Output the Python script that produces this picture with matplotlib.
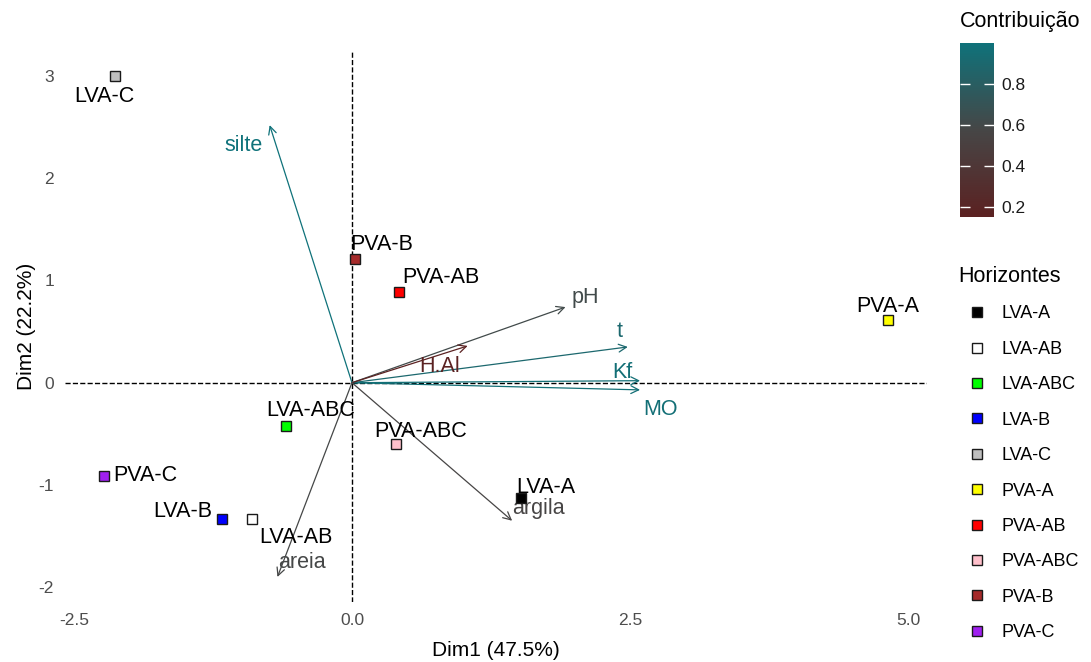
import numpy as np
import matplotlib.pyplot as plt
from matplotlib.colors import LinearSegmentedColormap, Normalize
from matplotlib.cm import ScalarMappable
from matplotlib.lines import Line2D

plt.rcParams['font.family'] = ['Liberation Sans', 'DejaVu Sans']
plt.rcParams['axes.unicode_minus'] = False

# individuos (horizontes) ---------------------------------
horizontes = ['LVA-A', 'LVA-AB', 'LVA-ABC', 'LVA-B', 'LVA-C',
              'PVA-A', 'PVA-AB', 'PVA-ABC', 'PVA-B', 'PVA-C']
dim1_ind = [1.52, -0.90, -0.59, -1.17, -2.13, 4.82, 0.42, 0.40, 0.03, -2.23]
dim2_ind = [-1.13, -1.33, -0.42, -1.33, 3.00, 0.61, 0.89, -0.60, 1.21, -0.91]
cores_hor = ['#000000', '#FFFFFF', '#00FF00', '#0000FF', '#BEBEBE',
             '#FFFF00', '#FF0000', '#FFC0CB', '#A52A2A', '#A020F0']

# variaveis ------------------------------------------------
variaveis = ['silte', 'pH', 't', 'Kf', 'MO', 'H.Al', 'argila', 'areia']
dim1_var = [-0.74, 1.92, 2.48, 2.59, 2.59, 1.04, 1.44, -0.67]
dim2_var = [2.52, 0.74, 0.35, 0.02, -0.07, 0.36, -1.35, -1.90]
contrib = [1.00, 0.61, 0.90, 0.97, 0.97, 0.16, 0.56, 0.58]

# deslocamento dos rotulos (pixels)
off_ind = {'LVA-A': (25, 11), 'LVA-AB': (44, -19), 'LVA-ABC': (24, 15),
           'LVA-B': (-39, 7), 'LVA-C': (-11, -20), 'PVA-A': (0, 14),
           'PVA-AB': (42, 14), 'PVA-ABC': (24, 13), 'PVA-B': (26, 15),
           'PVA-C': (41, 0)}
off_var = {'silte': (-26, -20), 'pH': (20, 10), 't': (-8, 15), 'Kf': (-18, 8),
           'MO': (20, -20), 'H.Al': (-28, -21), 'argila': (26, 12),
           'areia': (24, 14)}

W, H = 1091, 662
fig = plt.figure(figsize=(W / 100, H / 100), dpi=100)
ax = fig.add_axes([65 / W, 1 - 602 / H, (927 - 65) / W, (602 - 51) / H])
ax.set_xlim(-2.58, 5.17)
ax.set_ylim(-2.145, 3.245)
for s in ax.spines.values():
    s.set_visible(False)
ax.tick_params(length=0, labelsize=12.5, labelcolor='#4D4D4D', pad=8)
ax.set_xticks([-2.5, 0.0, 2.5, 5.0])
ax.set_xticklabels(['-2.5', '0.0', '2.5', '5.0'])
ax.set_yticks([-2, -1, 0, 1, 2, 3])
ax.set_xlabel('Dim1 (47.5%)', fontsize=15, labelpad=9)
ax.set_ylabel('Dim2 (22.2%)', fontsize=15, labelpad=2)

ax.axhline(0, color='black', ls='--', lw=1)
ax.axvline(0, color='black', ls='--', lw=1)

cmap = LinearSegmentedColormap.from_list('contrib', ['#5B2121', '#464646', '#0F727A'])
norm = Normalize(vmin=0.15, vmax=1.0)

# setas
for nome, x, y, c in zip(variaveis, dim1_var, dim2_var, contrib):
    col = cmap(norm(c))
    ax.annotate('', xy=(x, y), xytext=(0, 0),
                arrowprops=dict(arrowstyle='->', color=col, lw=0.9,
                                shrinkA=0, shrinkB=0, mutation_scale=14))
    dx, dy = off_var[nome]
    ax.annotate(nome, xy=(x, y), xytext=(dx * 0.72, dy * 0.72),
                textcoords='offset points', ha='center', va='center',
                fontsize=15.5, color=col)

# pontos
for nome, x, y, c in zip(horizontes, dim1_ind, dim2_ind, cores_hor):
    ax.plot(x, y, 's', ms=7, mfc=c, mec='#1A1A1A', mew=1, zorder=5)
    dx, dy = off_ind[nome]
    ax.annotate(nome, xy=(x, y), xytext=(dx * 0.72, dy * 0.72),
                textcoords='offset points', ha='center', va='center',
                fontsize=15.5, color='black', zorder=6)

# barra de cores
cax = fig.add_axes([960 / W, 1 - 217 / H, 34 / W, 174 / H])
cb = fig.colorbar(ScalarMappable(norm=norm, cmap=cmap), cax=cax)
cb.outline.set_visible(False)
cb.set_ticks([0.2, 0.4, 0.6, 0.8])
cax.yaxis.set_ticks_position('both')
cax.tick_params(axis='y', direction='in', color='white', length=7, width=1,
                labelsize=12.5, labelcolor='#1A1A1A', labelleft=False,
                labelright=True, pad=5)
fig.text(960 / W, 1 - 22 / H, 'Contribuição', fontsize=15.5, va='center', ha='left')

# legenda dos horizontes
handles = [Line2D([], [], marker='s', ls='', ms=7, mfc=c, mec='#1A1A1A', mew=1)
           for c in cores_hor]
leg = fig.legend(handles, horizontes, title='Horizontes', loc='upper left',
                 bbox_to_anchor=(964 / W, 1 - 266 / H), frameon=False,
                 fontsize=13, title_fontsize=15.5, labelspacing=1.02,
                 handlelength=1.4, handletextpad=0.7, alignment='left',
                 borderaxespad=0, borderpad=0)
leg._legend_box.align = 'left'
leg.get_title().set_position((-6, 0))

fig.savefig('out.png', dpi=100)
